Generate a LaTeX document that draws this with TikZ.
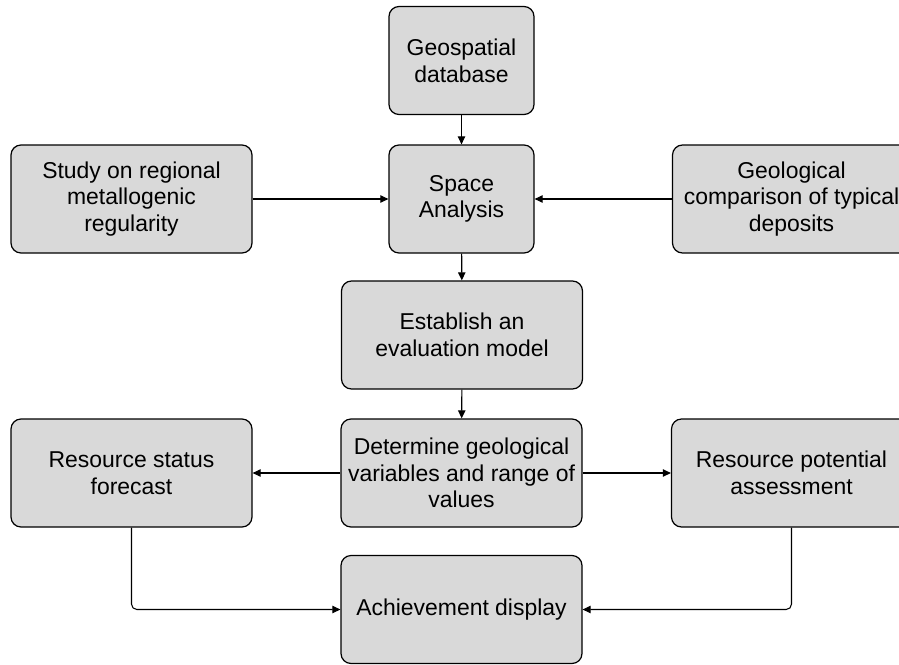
\documentclass[tikz,border=0pt]{standalone}
\usepackage{fontspec}
\setmainfont{Liberation Sans}
\usetikzlibrary{arrows.meta,positioning}

\begin{document}
\begin{tikzpicture}[->,>={Triangle[length=6pt,width=5.5pt]},line width=0.8pt,
                    x=0.75pt,y=-0.75pt,node distance=247.5pt,
                    every node/.style={font=\fontsize{17.2pt}{20pt}\selectfont},
                    box/.style={shape=rectangle,rounded corners=7.5pt,draw=black,
                                fill=black!15,align=center,line width=0.9pt,
                                minimum height=81pt,inner sep=2pt},
                    wide/.style={box,minimum width=180.75pt},
                    narrow/.style={box,minimum width=108.75pt}]

  \useasboundingbox (0,0) rectangle (899,664);

  % middle column
  \node[narrow] (geo)   at (461.5,60.5) {Geospatial\\database};
  \node[narrow] (space) at (461.5,199)  {Space\\Analysis};
  \node[wide]   (est)   at (462,335)    {Establish an\\evaluation model};
  \node[wide]   (det)   at (461.5,473)  {Determine geological\\variables and range of\\values};
  \node[wide]   (ach)   at (461.5,609.5) {Achievement display};

  % side boxes
  \node[wide] (study) [left of=space]  {Study on regional\\metallogenic\\regularity};
  \node[wide,minimum width=178.5pt] (geocmp) [right of=space] {Geological\\comparison of typical\\deposits};
  \node[wide] (rstat) [left of=det]    {Resource status\\forecast};
  \node[wide,minimum width=180pt] (rpot)  [right of=det]    {Resource potential\\assessment};

  \path (geo)    edge (space)
        (study)  edge (space)
        (geocmp) edge (space)
        (space)  edge (est)
        (est)    edge (det)
        (det)    edge (rstat)
        (det)    edge (rpot);

  \draw[rounded corners=4pt] (rstat.south) |- (ach.west);
  \draw[rounded corners=4pt] (rpot.south)  |- (ach.east);
\end{tikzpicture}
\end{document}
